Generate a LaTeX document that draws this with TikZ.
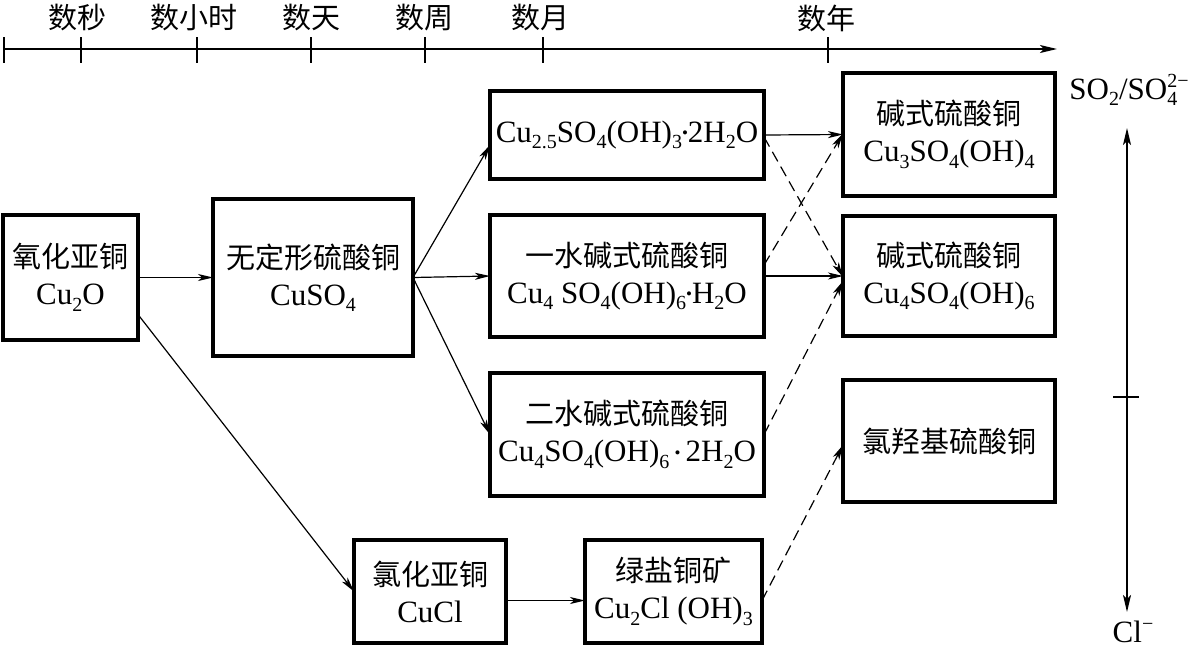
\documentclass[tikz,border=0pt]{standalone}
\usepackage{fontspec}
\setmainfont{Liberation Serif}
\newfontfamily\cjk{Noto Sans CJK SC}
\usetikzlibrary{arrows.meta}
\newcommand\dn[1]{\raisebox{-6.5pt}{\fontsize{20}{20}\selectfont #1}}
\newcommand\upr[1]{\raisebox{12pt}{\fontsize{20}{20}\selectfont #1}}
\newcommand\zh[1]{{\cjk\fontsize{29}{36}\selectfont #1}}
\newcommand\hdot{\raisebox{3.5pt}{\fontsize{17}{17}\selectfont •}}
\begin{document}
\begin{tikzpicture}[x=1pt,y=-1pt,
  box/.style={draw,line width=3.3pt,inner sep=0pt,outer sep=0pt,align=center,
    font=\fontsize{31}{37}\selectfont},
  lbl/.style={inner sep=0pt,font=\fontsize{31}{37}\selectfont},
  arr/.style={-{Stealth[length=15pt,width=7pt,inset=4pt]},line width=1.2pt},
  dsh/.style={arr,dash pattern=on 11pt off 6pt},
  axis/.style={line width=1.4pt},
  tick/.style={line width=1.4pt}]
\useasboundingbox (0,0) rectangle (1199,665);

% time axis
\coordinate (t0) at (4,49);
\coordinate (t1) at (1057,49);
\draw[axis,-{Stealth[length=17pt,width=8pt,inset=4pt]}] (t0) -- (t1);
\foreach \x/\nm in {4/a,81/b,197/c,311/d,425/e,543/f,828/g}{
  \coordinate (tk\nm) at (\x,37);
  \coordinate (tb\nm) at (\x,63);
  \draw[tick] (tk\nm) -- (tb\nm);
}
\node[lbl] (l1) at (77,18) {\zh{数秒}};
\node[lbl] (l2) at (194,18) {\zh{数小时}};
\node[lbl] (l3) at (311,18) {\zh{数天}};
\node[lbl] (l4) at (424,18) {\zh{数周}};
\node[lbl] (l5) at (540,18) {\zh{数月}};
\node[lbl] (l6) at (826,18) {\zh{数年}};

% boxes
\node[box,minimum width=135pt,minimum height=125pt] (A) at (70.5,277.5)
  {\zh{氧化亚铜}\\Cu\dn{2}O};
\node[box,minimum width=200pt,minimum height=157pt] (B) at (313,277.5)
  {\zh{无定形硫酸铜}\\CuSO\dn{4}};
\node[box,minimum width=274pt,minimum height=88pt] (C) at (627,135)
  {Cu\dn{2.5}SO\dn{4}(OH)\dn{3}\hdot 2H\dn{2}O};
\node[box,minimum width=274pt,minimum height=122pt] (D) at (627,276)
  {\zh{一水碱式硫酸铜}\\Cu\dn{4} SO\dn{4}(OH)\dn{6}\hdot H\dn{2}O};
\node[box,minimum width=274pt,minimum height=123pt] (E) at (627,434.5)
  {\zh{二水碱式硫酸铜}\\Cu\dn{4}SO\dn{4}(OH)\dn{6}\,\hdot\,2H\dn{2}O};
\node[box,minimum width=152pt,minimum height=103pt] (F) at (430,591.5)
  {\zh{氯化亚铜}\\CuCl};
\node[box,minimum width=177pt,minimum height=103pt] (G) at (673.5,591.5)
  {\zh{绿盐铜矿}\\Cu\dn{2}Cl (OH)\dn{3}};
\node[box,minimum width=212pt,minimum height=123pt] (H) at (949,134.5)
  {\zh{碱式硫酸铜}\\Cu\dn{3}SO\dn{4}(OH)\dn{4}};
\node[box,minimum width=212pt,minimum height=120pt] (I) at (949,276)
  {\zh{碱式硫酸铜}\\Cu\dn{4}SO\dn{4}(OH)\dn{6}};
\node[box,minimum width=212pt,minimum height=122pt] (J) at (949,441)
  {\zh{氯羟基硫酸铜}};

% connectors
\draw[arr] (A.east) -- (B.west);
\draw[arr] ([yshift=-37pt]A.east) -- (F.west);
\draw[arr] (B.east) -- ([yshift=-10pt]C.west);
\draw[arr] (B.east) -- (D.west);
\draw[arr] (B.east) -- (E.west);
\draw[arr] ([yshift=-9pt]F.east) -- ([yshift=-9pt]G.west);
\draw[arr] (C.east) -- (H.west);
\draw[arr] (D.east) -- (I.west);
\draw[dsh] ([yshift=-2pt]C.east) -- ([yshift=-1pt]I.west);
\draw[dsh] ([yshift=11pt]D.east) -- ([yshift=1pt]H.west);
\draw[dsh] (E.east) -- ([yshift=-5pt]I.west);
\draw[dsh] ([yshift=-9pt]G.east) -- ([yshift=-4pt]J.west);

% right axis
\coordinate (ytop) at (1127,128);
\coordinate (ybot) at (1127,612);
\draw[axis,{Stealth[length=17pt,width=8pt,inset=4pt]}-{Stealth[length=17pt,width=8pt,inset=4pt]}] (ytop) -- (ybot);
\coordinate (yt1) at (1113,397);
\coordinate (yt2) at (1139,397);
\draw[tick] (yt1) -- (yt2);
\node[lbl] (so) at (1129,90) {SO\dn{2}/SO\rlap{\dn{4}}\upr{2−}};
\node[lbl] (cl) at (1133,632) {Cl\upr{−}};
\end{tikzpicture}
\end{document}
